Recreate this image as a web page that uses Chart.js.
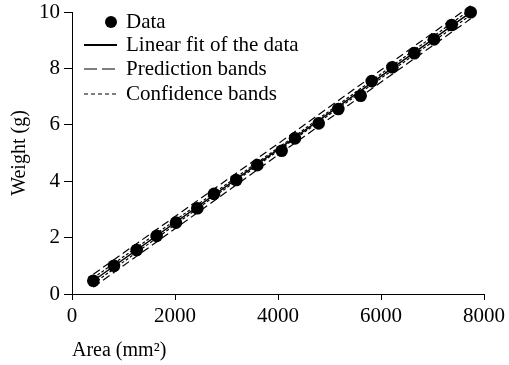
<!DOCTYPE html>
<html>
<head>
<meta charset="utf-8">
<script src="https://cdn.jsdelivr.net/npm/chart.js@4.4.0/dist/chart.umd.min.js"></script>
<style>
  html, body { margin: 0; padding: 0; background: #fff; }
  #wrap { width: 509px; height: 365px; }
</style>
</head>
<body>
<div id="wrap"><canvas id="myChart" width="509" height="365"></canvas></div>
<script>
// measured data (area in mm², weight in g)
const areaData = [414, 815, 1256, 1644, 2019, 2434, 2757, 3190, 3598, 4071, 4330, 4790, 5171, 5605, 5819, 6220, 6647, 7029, 7372, 7741];
const weightData = [0.47, 1.00, 1.56, 2.06, 2.53, 3.04, 3.55, 4.04, 4.57, 5.08, 5.52, 6.05, 6.56, 7.03, 7.55, 8.04, 8.54, 9.03, 9.54, 9.99];

// fit and bands, read at three areas
const bandArea = [414, 4078, 7741];
const fitWeight = [0.47, 5.23, 9.99];
const predUpper = [0.70, 5.43, 10.22];
const predLower = [0.24, 5.03, 9.76];
const confUpper = [0.57, 5.28, 10.09];
const confLower = [0.37, 5.18, 9.89];

const xTicks = [0, 2000, 4000, 6000, 8000];
const yTicks = [0, 2, 4, 6, 8, 10];

const legendLabels = ['Data', 'Linear fit of the data', 'Prediction bands', 'Confidence bands'];

const FONT = '"Liberation Serif", "Times New Roman", serif';

function pairs(xs, ys) {
    return xs.map((x, i) => ({ x: x, y: ys[i] }));
}

function lineSet(label, ys, width, dash) {
    return {
        label: label,
        data: pairs(bandArea, ys),
        showLine: true,
        borderColor: '#000',
        borderWidth: width,
        borderDash: dash,
        pointRadius: 0,
        fill: false,
        clip: false
    };
}

// legend drawn inside the plot, top left
const insideLegend = {
    id: 'insideLegend',
    afterDraw(chart) {
        const ctx = chart.ctx;
        const rows = [22, 45, 69, 94];
        ctx.save();
        ctx.fillStyle = '#000';
        ctx.strokeStyle = '#000';

        ctx.beginPath();
        ctx.arc(111, rows[0], 6, 0, Math.PI * 2);
        ctx.fill();

        const styles = [[[], 2], [[13, 5], 1.2], [[4, 3], 1.2]];
        styles.forEach(function (s, i) {
            ctx.setLineDash(s[0]);
            ctx.lineWidth = s[1];
            ctx.beginPath();
            ctx.moveTo(84, rows[i + 1]);
            ctx.lineTo(117, rows[i + 1]);
            ctx.stroke();
        });
        ctx.setLineDash([]);

        ctx.font = '21px ' + FONT;
        ctx.textBaseline = 'middle';
        ctx.textAlign = 'left';
        legendLabels.forEach(function (t, i) {
            ctx.fillText(t, 126, rows[i]);
        });
        ctx.restore();
    }
};

const ctx = document.getElementById('myChart').getContext('2d');

new Chart(ctx, {
    type: 'scatter',
    data: {
        datasets: [
            lineSet(legendLabels[2], predUpper, 1.2, [8, 4]),
            lineSet(legendLabels[2], predLower, 1.2, [8, 4]),
            lineSet(legendLabels[3], confUpper, 1.2, [3, 2]),
            lineSet(legendLabels[3], confLower, 1.2, [3, 2]),
            lineSet(legendLabels[1], fitWeight, 1.5, []),
            {
                label: legendLabels[0],
                data: pairs(areaData, weightData),
                backgroundColor: '#000',
                borderColor: '#000',
                pointRadius: 6.3,
                pointBorderWidth: 0,
                clip: false
            }
        ]
    },
    options: {
        responsive: false,
        animation: false,
        devicePixelRatio: 1,
        layout: { padding: { top: 0, right: 25, left: 0, bottom: 0 } },
        plugins: {
            legend: { display: false },
            tooltip: { enabled: false }
        },
        scales: {
            x: {
                type: 'linear',
                min: 0,
                max: 8000,
                afterBuildTicks(scale) { scale.ticks = xTicks.map(v => ({ value: v })); },
                afterFit(scale) { scale.height = 71; },
                grid: { display: true, drawOnChartArea: false, drawTicks: true, tickLength: 6, color: '#000' },
                border: { display: true, color: '#000', width: 1 },
                ticks: {
                    color: '#000',
                    font: { family: FONT, size: 21 },
                    padding: 4,
                    maxRotation: 0,
                    callback: v => String(v)
                },
                title: {
                    display: true,
                    text: 'Area (mm²)',
                    align: 'start',
                    color: '#000',
                    font: { family: FONT, size: 20 },
                    padding: { top: 0, bottom: 2 }
                }
            },
            y: {
                type: 'linear',
                min: 0,
                max: 10,
                afterBuildTicks(scale) { scale.ticks = yTicks.map(v => ({ value: v })); },
                afterFit(scale) { scale.width = 72; scale.paddingTop = 12; },
                grid: { display: true, drawOnChartArea: false, drawTicks: true, tickLength: 8, color: '#000' },
                border: { display: true, color: '#000', width: 1 },
                ticks: {
                    color: '#000',
                    font: { family: FONT, size: 21 },
                    padding: 4,
                    callback: v => String(v)
                },
                title: {
                    display: true,
                    text: 'Weight (g)',
                    color: '#000',
                    font: { family: FONT, size: 20 },
                    padding: { top: 8, bottom: 0 }
                }
            }
        }
    },
    plugins: [insideLegend]
});
</script>
</body>
</html>
